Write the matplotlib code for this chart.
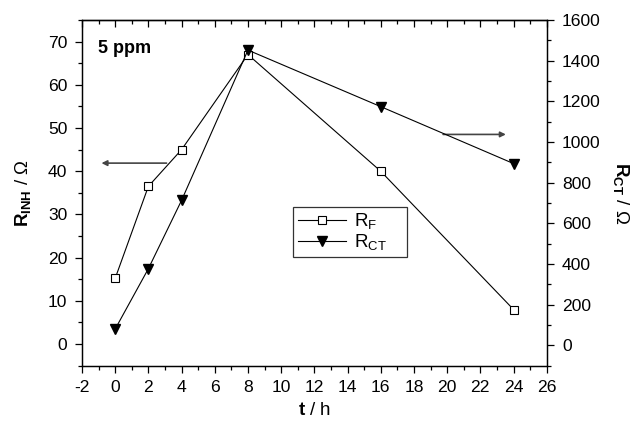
import matplotlib
matplotlib.use("Agg")
import matplotlib.pyplot as plt
from matplotlib.ticker import MultipleLocator

plt.rcParams['font.family'] = ['Liberation Sans', 'DejaVu Sans']
plt.rcParams['mathtext.fontset'] = 'custom'
plt.rcParams['mathtext.rm'] = 'Liberation Sans'
plt.rcParams['mathtext.bf'] = 'Liberation Sans:bold'
plt.rcParams['mathtext.it'] = 'Liberation Sans:italic'
plt.rcParams['axes.unicode_minus'] = False

t_hours = [0, 2, 4, 8, 16, 24]
r_f = [15.2, 36.5, 45.0, 67.0, 40.0, 8.0]
r_ct = [80, 377, 713, 1452, 1174, 894]

fig = plt.figure(figsize=(6.33, 4.23), dpi=100)
ax = fig.add_axes([0.1295, 0.1355, 0.7342, 0.8172])
ax2 = ax.twinx()

l1, = ax.plot(t_hours, r_f, color='black', lw=0.8, marker='s', ms=5.3,
              mfc='white', mec='black', mew=0.8, label=r'R$_\mathrm{F}$')
l2, = ax2.plot(t_hours, r_ct, color='black', lw=0.8, marker='v', ms=6.5,
               mfc='black', mec='black', label=r'R$_\mathrm{CT}$')

ax.set_xlim(-2, 26)
ax.set_ylim(-5, 75)
ax2.set_ylim(-100, 1600)

ax.xaxis.set_major_locator(MultipleLocator(2))
ax.xaxis.set_minor_locator(MultipleLocator(1))
ax.yaxis.set_major_locator(MultipleLocator(10))
ax.yaxis.set_minor_locator(MultipleLocator(5))
ax2.yaxis.set_major_locator(MultipleLocator(200))
ax2.yaxis.set_minor_locator(MultipleLocator(100))

for a in (ax, ax2):
    for s in a.spines.values():
        s.set_linewidth(0.9)

ax.tick_params(axis='both', which='major', direction='out', length=5, width=0.9,
               labelsize=12.6, pad=5.5)
ax.tick_params(axis='both', which='minor', direction='out', length=3, width=0.9)
ax.tick_params(axis='y', which='both', right=False)
ax2.tick_params(axis='y', which='major', direction='out', length=5, width=0.9,
                labelsize=12.6, pad=6)
ax2.tick_params(axis='y', which='minor', direction='out', length=3, width=0.9)

top = ax.secondary_xaxis('top')
top.xaxis.set_major_locator(MultipleLocator(2))
top.xaxis.set_minor_locator(MultipleLocator(1))
top.tick_params(which='major', direction='in', length=5, width=0.9, labeltop=False)
top.tick_params(which='minor', direction='in', length=3, width=0.9)
top.spines['top'].set_linewidth(0.9)

ax.set_xlabel(r'$\mathbf{t}$ / h', fontsize=13.5, labelpad=5)
ax.set_ylabel(r'$\mathbf{R}_{\mathbf{INH}}$ / Ω', fontsize=13.5, labelpad=11)
ax2.set_ylabel(r'$\mathbf{R}_{\mathbf{CT}}$ / Ω', fontsize=13.5, rotation=-90, labelpad=22)

ax.text(0.034, 0.919, '5 ppm', transform=ax.transAxes, fontsize=13,
        fontweight='bold', ha='left', va='center')

ax.annotate('', xy=(0.042, 0.586), xytext=(0.182, 0.586), xycoords='axes fraction',
            arrowprops=dict(arrowstyle='-|>', color='#444444', lw=1.2,
                            mutation_scale=8, shrinkA=0, shrinkB=0))
ax.annotate('', xy=(0.912, 0.669), xytext=(0.777, 0.669), xycoords='axes fraction',
            arrowprops=dict(arrowstyle='-|>', color='#444444', lw=1.2,
                            mutation_scale=8, shrinkA=0, shrinkB=0))

leg = ax2.legend(handles=[l1, l2], loc='upper left',
                 bbox_to_anchor=(0.454, 0.28, 0.245, 0.18), mode='expand',
                 fontsize=13.5, frameon=True, fancybox=False, borderaxespad=0,
                 handlelength=2.6, handletextpad=0.4, borderpad=0.25,
                 labelspacing=0.05)
leg.get_frame().set_edgecolor('black')
leg.get_frame().set_linewidth(0.9)

fig.savefig('out.png', dpi=100)
